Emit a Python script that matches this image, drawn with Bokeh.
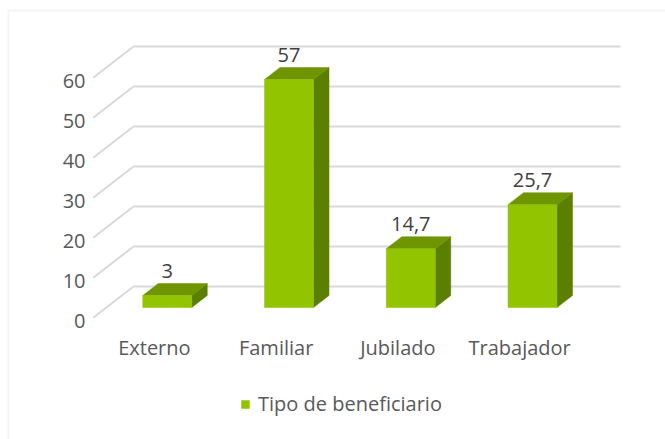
from bokeh.plotting import figure
from bokeh.models import Range1d, Legend, LegendItem, BoxAnnotation
from bokeh.core.properties import value
from bokeh.embed import file_html
from bokeh.resources import INLINE

# ---- data ----
categories = ["Externo", "Familiar", "Jubilado", "Trabajador"]
values = [3, 57, 14.7, 25.7]
value_labels = ["3", "57", "14,7", "25,7"]
y_ticks = [0, 10, 20, 30, 40, 50, 60]
y_tick_labels = ["0", "10", "20", "30", "40", "50", "60"]
series_name = "Tipo de beneficiario"

# ---- layout geometry (pixels) ----
W, H = 665, 439
X0 = 93.0      # left edge of floor (front) in px
CW = 121.75    # px per category
Y0 = 317.0     # px (from top) of value 0 at front
PPU = 4.0      # px per value unit
DEPTH_DX, DEPTH_DY = 40.0, 31.0
Z_FRONT, Z_BACK = 10 / 31, 22 / 31
BAR_W_PX = 49.0

def du(z):
    return z * DEPTH_DX / CW

def dv(z):
    return z * DEPTH_DY / PPU

FONT = "Open Sans"
FRONT = "#92c400"
TOP = "#6f9600"
SIDE = "#5b7f00"
GRID = "#d9d9d9"

p = figure(width=W, height=H, output_backend="svg", toolbar_location=None,
           x_range=Range1d(-X0 / CW, (W - X0) / CW),
           y_range=Range1d((Y0 - H) / PPU, Y0 / PPU),
           min_border=0, x_axis_type=None, y_axis_type=None)
p.grid.visible = False
p.outline_line_color = None
p.background_fill_color = "white"
p.border_fill_color = "white"

# chart border
p.add_layout(BoxAnnotation(left=(8 - X0) / CW, right=(W + 20 - X0) / CW,
                           top=(Y0 - 10) / PPU, bottom=(Y0 - H - 20) / PPU,
                           fill_alpha=0, line_color=GRID, line_width=2))

# gridlines (floor diagonal + back wall)
n = len(categories)
gx, gy = [], []
for t in y_ticks:
    gx.append([0, du(1), n + du(1)])
    gy.append([t, t + dv(1), t + dv(1)])
p.multi_line(gx, gy, line_color=GRID, line_width=2)

# tick labels
p.text(x=[-8 / CW] * len(y_ticks), y=[t - 3 / PPU for t in y_ticks], text=y_tick_labels,
       text_font=value(FONT), text_font_size="20px", text_color="#595959",
       text_align="right", text_baseline="middle")

# bars
ddu = du(Z_BACK) - du(Z_FRONT)
ddv = dv(Z_BACK) - dv(Z_FRONT)
bw = BAR_W_PX / CW
centers = [i + 0.5 + du(Z_FRONT) for i in range(n)]
lefts = [c - bw / 2 for c in centers]
rights = [c + bw / 2 for c in centers]
bottoms = [dv(Z_FRONT)] * n
tops = [v + dv(Z_FRONT) for v in values]

top_xs = [[l, r, r + ddu, l + ddu] for l, r in zip(lefts, rights)]
top_ys = [[t, t, t + ddv, t + ddv] for t in tops]
side_xs = [[r, r + ddu, r + ddu, r] for r in rights]
side_ys = [[b, b + ddv, t + ddv, t] for b, t in zip(bottoms, tops)]

p.patches(side_xs, side_ys, fill_color=SIDE, line_color=SIDE, line_width=0.5)
p.patches(top_xs, top_ys, fill_color=TOP, line_color=TOP, line_width=0.5)
front = p.quad(left=lefts, right=rights, bottom=bottoms, top=tops,
               fill_color=FRONT, line_color=FRONT, line_width=0.5)

# data labels
p.text(x=centers, y=[t + ddv + 13 / PPU for t in tops], text=value_labels,
       text_font=value(FONT), text_font_size="20px", text_color="#404040",
       text_align="center", text_baseline="middle")

# category labels
p.text(x=[i + 0.5 for i in range(n)], y=[-30 / PPU] * n, text=categories,
       text_font=value(FONT), text_font_size="20px", text_color="#595959",
       text_align="center", text_baseline="middle")

legend = Legend(items=[LegendItem(label=series_name, renderers=[front])],
                location=(240, 22), orientation="horizontal",
                glyph_width=10, glyph_height=10, label_standoff=8,
                label_height=20, padding=0, margin=0, spacing=0,
                border_line_color=None, background_fill_alpha=0,
                label_text_font=FONT, label_text_font_size="20px",
                label_text_color="#595959", label_text_baseline="middle")
p.add_layout(legend)

open("out.html", "w").write(file_html(p, INLINE))
